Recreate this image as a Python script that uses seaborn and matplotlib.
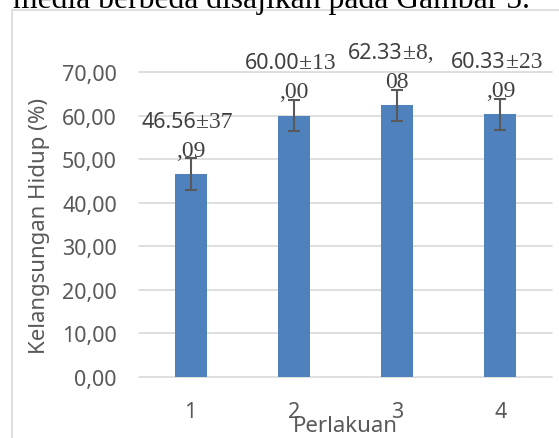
import numpy as np
import pandas as pd
import seaborn as sns
import matplotlib.pyplot as plt
from matplotlib.patches import Rectangle
from matplotlib.ticker import FuncFormatter

# Data
categories = ['1', '2', '3', '4']
survival = [46.56, 60.00, 62.33, 60.33]
error = [3.6, 3.6, 3.65, 3.55]
label_mean = ['46.56', '60.00', '62.33', '60.33']
label_sd = ['±37', '±13', '±8,', '±23']
label_tail = [',09', ',00', '08', ',09']

df = pd.DataFrame({'Perlakuan': categories, 'Hidup': survival})

sns.set_style('white')
plt.rcParams['font.family'] = ['Noto Sans', 'DejaVu Sans']

gray = '#595959'
dark = '#404040'

fig = plt.figure(figsize=(5.59, 4.39), dpi=100)
ax = fig.add_axes([139 / 559, 61 / 439, 413 / 559, 305 / 439])

sns.barplot(data=df, x='Perlakuan', y='Hidup', color='#4f81bd', width=0.31,
            saturation=1, errorbar=None, linewidth=0, ax=ax)
ax.errorbar(np.arange(len(categories)), survival, yerr=error, fmt='none',
            ecolor=gray, elinewidth=1.5, capsize=4.3, capthick=1.5)

ax.set_xlim(-0.5, 3.5)
ax.set_ylim(0, 70)
ax.set_yticks(range(0, 80, 10))
ax.yaxis.set_major_formatter(FuncFormatter(lambda v, p: f'{v:.2f}'.replace('.', ',')))
ax.grid(axis='y', color='#d9d9d9', lw=1.2)
ax.set_axisbelow(True)
for line in ax.get_ygridlines():
    line.set_clip_on(False)
sns.despine(ax=ax, left=True, bottom=True)
ax.tick_params(length=0, labelsize=15.5, labelcolor=gray)
ax.tick_params(axis='y', pad=16)
ax.tick_params(axis='x', pad=17)
ax.set_xlabel('')
ax.set_ylabel('')

# value labels: mean in sans, the rest in serif (as in the source document)
for i in range(len(categories)):
    top = survival[i] + error[i]
    ax.annotate(label_tail[i], xy=(i, top), xytext=(0, 2), textcoords='offset points',
                ha='center', va='baseline', family='Liberation Serif',
                fontsize=17, color=dark)
    t1 = ax.annotate(label_mean[i], xy=(i, top), xytext=(4, 23), textcoords='offset points',
                     ha='right', va='baseline', fontsize=15.5, color=dark)
    ax.annotate(label_sd[i], xy=(1, 0), xycoords=t1, ha='left', va='bottom',
                family='Liberation Serif', fontsize=17, color=dark)

fig.text(345 / 559, 1 - 427 / 439, 'Perlakuan', ha='center', va='center',
         fontsize=16, color=gray)
fig.text(40 / 559, 1 - 226 / 439, 'Kelangsungan Hidup (%)', rotation=90,
         ha='center', va='center', fontsize=16, color=gray)

# chart frame and the cut-off line of document text above it
fig.add_artist(Rectangle((12 / 559, -0.05), 1.0, 1.05 - 11 / 439, transform=fig.transFigure,
                         fill=False, ec='#d9d9d9', lw=1.2))
fig.text(13 / 559, 1 - 8 / 439, 'media berbeda disajikan pada Gambar 5.',
         family='Liberation Serif', fontsize=22.8, va='baseline', color='black')

fig.savefig('out.png', dpi=100)
